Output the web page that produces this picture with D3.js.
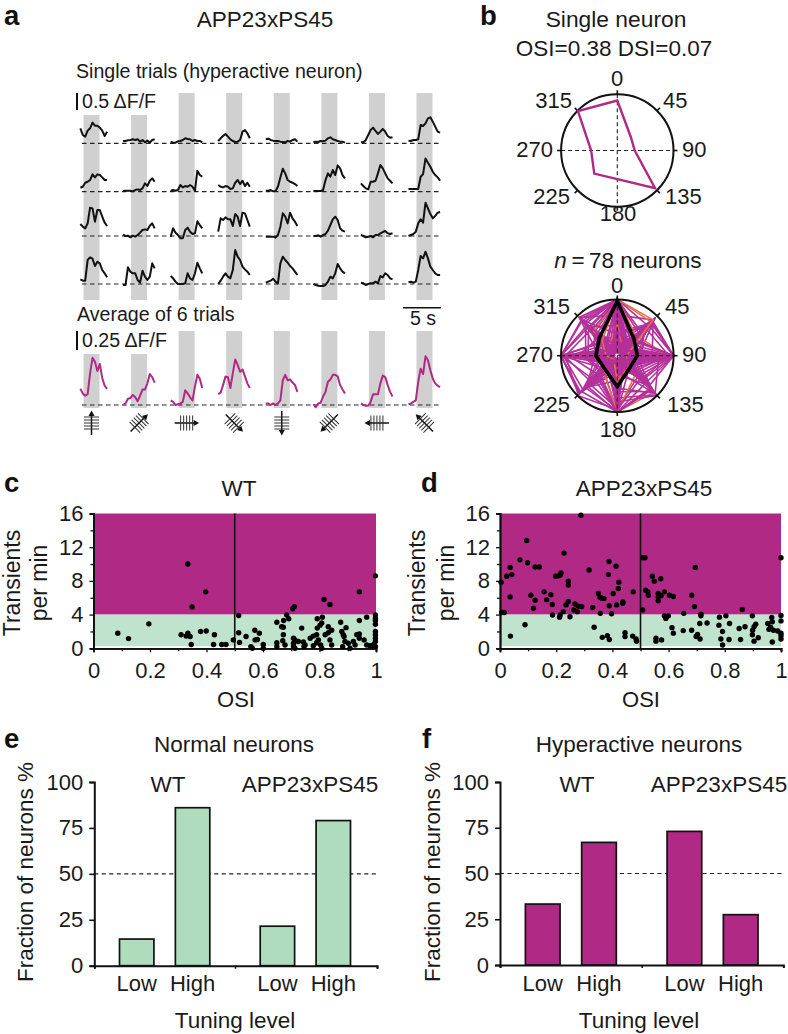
<!DOCTYPE html>
<html><head><meta charset="utf-8">
<script src="https://cdn.jsdelivr.net/npm/d3@7"></script>
<style>html,body{margin:0;background:#fff}svg{display:block}text{font-family:"Liberation Sans",Arial,sans-serif;fill:#1a1a1a}</style>
</head><body><svg id="c" width="788" height="1034"></svg>
<script>
// ---------- data ----------
const directions=[0,45,90,135,180,225,270,315];
const trialRow1=[[.45,.25,.20,.38,.45,.62,.53,.53,.47,.38,.22,.35],[.07,.07,.09,.10,.12,.10,.12,.05,.10,.03,.08,.02,.10,.12],[.05,.02,.02,.06,.07,.10,.15,.13,.12,.07,.10,.07,.07,.03],[.07,.15,.22,.28,.20,.12,.07,.04,.05,.10,.35,.40,.30,.15],[.13,.14,.10,.08,.07,.07,.05,.04,.03,.07,.05,.10,.12,.05],[.03,.05,.04,.07,.06,.08,.15,.18,.12,.10,.07,.05,.05,.02],[.03,.03,.10,.25,.40,.47,.37,.28,.35,.43,.35,.22,.17,.18],[.08,.07,.10,.10,.12,.55,.52,.60,.75,.78,.65,.50,.35,.32]];
const trialRow2=[[.12,.15,.27,.30,.35,.52,.43,.52,.50,.43,.35,.35],[.02,.03,.03,.03,.01,.05,.07,.05,.10,.25,.17,.33,.40,.30],[.02,.05,.03,.05,.20,.13,.17,.15,.20,.15,.03,.63,.50,.45],[.20,.15,.13,.17,.15,.08,.10,.27,.35,.23,.33,.17,.27,.15],[.03,.03,.05,.01,.02,.15,.43,.69,.55,.35,.30,.27,.23,.17],[.02,.02,.02,.02,.05,.35,.55,.45,.65,.50,.79,.70,.50,.40],[.25,.17,.10,.07,.30,.30,.33,.55,.80,.70,.55,.40,.33,.25],[.08,.08,.08,.08,.08,.45,.53,1.0,.87,.75,.60,.50,.43,.33]];
const trialRow3=[[.36,.28,.23,.38,.85,.83,.43,.78,.78,.58,.40,.30],[.04,0,.01,-.04,.01,-.02,.03,.10,.18,.20,.18,.31,.38,.23],[-.02,.23,.10,.03,-.07,-.07,.18,.25,.13,.06,.08,.44,.33,.23],[.13,.53,.48,.56,.50,.50,.30,.66,.58,.30,.70,.68,.48,.28],[-.02,-.02,-.02,-.02,-.05,.03,.28,.68,.58,.38,.70,.53,.43,.30],[0,0,.02,-.02,.03,.06,.16,.33,.50,.58,.48,.23,.16,.13],[.03,0,-.04,-.02,0,-.04,.03,.03,.08,.12,.15,.08,.06,.08],[0,.03,.06,.13,.38,.50,.40,1.0,.83,.66,.53,.60,.70,.72]];
const trialRow4=[[.14,.10,.10,.72,.80,.76,.54,.67,.62,.42,.32,.20],[-.03,-.03,.50,.37,.32,.32,.12,.04,.40,.22,.12,.22,.62,.47],[.24,.17,.07,0,0,0,.02,.32,.17,.12,.32,.64,.47,.32],[0,.10,.22,.32,.22,.17,.42,1.02,.82,.72,.52,.44,.37,.27],[.04,.07,.10,.16,.07,.02,.62,.82,.72,.64,.54,.47,.37,.27],[0,-.03,-.05,-.06,-.06,-.03,.07,.22,.17,.32,.60,.47,.37,.32],[.04,.02,-.03,0,.02,.02,.07,.02,.24,.20,.32,.27,.17,.14],[.05,.07,.04,.07,.42,.84,.77,.97,.77,.52,.42,.32,.27,.27]];
const trialAverage=[[.21,.15,.12,.14,.41,.61,.56,.44,.53,.35,.25,.21],[0,.02,.08,.09,.13,.10,.05,.12,.20,.20,.28,.40,.36,.29],[.06,.04,0,.01,.02,.04,.19,.15,.10,.06,.24,.39,.34,.22],[.14,.16,.26,.37,.36,.22,.41,.59,.52,.43,.46,.37,.28,.22],[.02,.02,0,.02,0,.02,.06,.32,.39,.32,.33,.29,.26,.17],[.01,-.03,.02,.03,.11,.17,.30,.33,.39,.39,.37,.26,.20,.15],[.02,0,-.01,-.01,.04,.14,.14,.14,.28,.38,.36,.26,.17,.11],[.01,.02,.04,.06,.30,.47,.40,.63,.58,.45,.34,.28,.25,.23]];
const singleNeuron=[.89,.34,.31,.95,.51,.58,.465,.99];
const meanNeuron=[.97,.42,.355,.31,.55,.32,.38,.45];
const neurons=[
[100,12,8,30,55,14,6,92],[22,95,38,6,44,80,10,18],[5,30,100,22,8,40,62,15],[60,8,18,92,100,6,30,10],[14,72,6,44,12,96,100,34],[100,20,60,5,16,28,8,70],[8,88,100,34,6,10,45,24],[40,5,24,98,75,18,12,6],
[12,36,8,16,100,90,28,50],[100,55,14,8,30,6,84,20],[6,18,92,60,10,24,5,38],[28,9,44,12,100,35,60,8],[72,90,5,20,7,48,14,96],[100,6,30,14,22,8,40,58],[10,42,100,78,5,16,26,12],[34,14,7,52,94,70,8,30],
[18,60,24,8,36,12,100,88],[100,85,10,18,6,30,16,44],[7,12,74,95,28,5,50,20],[50,24,6,10,100,58,18,9],[16,8,38,26,12,98,92,66],[100,40,18,6,46,10,24,14],[5,78,100,12,20,34,7,28],[24,16,10,86,100,44,5,36],
[66,30,8,38,14,20,100,12],[100,10,42,24,8,16,56,80],[9,92,26,14,54,6,18,40],[36,6,100,52,18,84,12,7],[12,28,16,70,100,8,34,22],[44,68,6,8,24,92,100,16],[100,18,26,40,10,5,32,96],[6,50,88,16,30,12,8,62],
[20,10,34,90,64,26,14,5],[100,34,5,12,72,18,10,30],[8,84,100,28,5,42,22,14],[30,12,20,8,96,100,6,48],[54,7,14,32,10,60,100,72],[100,76,36,10,18,7,44,8],[11,22,96,46,26,14,5,34],[26,44,8,100,82,10,18,6],
[15,6,52,18,100,76,40,24],[100,14,8,54,20,34,12,88],[7,38,100,9,14,22,70,46],[42,80,16,24,6,94,12,10],[19,9,30,6,100,48,86,28],[100,48,22,16,5,12,6,60],[10,90,62,8,40,16,28,20],[32,16,100,70,12,6,46,9],
[6,26,12,94,58,32,100,14],[100,8,28,36,14,40,20,52],[13,66,44,5,92,10,8,30],[48,20,7,18,30,86,96,16],[23,5,100,28,8,54,14,42],[100,60,12,7,38,20,48,6],[9,32,18,82,100,14,24,18],[38,74,6,12,20,6,100,90],
[17,10,90,40,16,28,5,56],[100,28,46,9,24,8,36,26],[5,96,24,20,10,70,16,12],[56,14,9,46,100,36,7,22],[21,40,100,14,6,18,78,8],[100,16,6,72,34,12,28,64],[8,54,34,10,94,26,18,32],[46,24,14,92,7,88,10,16],
[14,7,70,30,100,6,56,20],[100,36,20,8,12,46,9,84],[6,86,100,18,32,8,14,48],[28,18,10,58,96,22,40,7],[12,46,5,26,16,94,100,36],[100,22,54,13,8,30,16,12],[7,70,92,6,26,14,34,18],[36,11,26,84,100,52,6,10],
[16,34,9,14,60,20,100,76],[100,90,16,28,44,9,20,38],[10,14,100,62,7,36,12,26],[52,6,30,16,98,80,24,8],[18,58,12,36,9,66,94,14],[100,26,7,44,18,10,52,72]];
const orangeNeurons=[3,17,31,45,59,73];
const wtOsi=[.086,.124,.196,.334,.397,.349,.31,.334,.328,.342,.379,.399,.428,.346,.425,.454,.469,.495,.514,.514,.517,.54,.557,.562,.571,.587,.572,.58,.601,.601,.649,.673,.691,.684,.705,.711,.666,.672,.672,.649,.649,.67,.678,.708,.713,.725,.708,.713,.708,.737,.743,.749,.745,.767,.778,.79,.792,.792,.81,.808,.802,.796,.79,.778,.804,.808,.816,.837,.82,.831,.831,.843,.837,.843,.875,.879,.884,.894,.887,.89,.882,.902,.908,.92,.926,.932,.941,.941,.941,.941,.958,.967,.967,.979,.998,.998,.998,.998,.998,.998,.998,.998,.998,.993,.988,.998];
const wtRate=[1.8,1.15,2.9,10,6.7,4.9,1.6,1.8,1.45,1.4,2,2.05,1.6,.45,.45,.45,.45,1,3.9,1.85,.7,1.4,.2,0,2.15,1.8,1,1.05,.45,0,3.1,3.3,3.5,3.95,4.7,4.95,2.55,2.5,1.6,.65,.2,.9,.4,1.2,1,.8,.6,0,.2,2.4,.75,.4,.2,1.2,1.45,1.6,2.4,3.5,3.7,3,2.75,1,.65,.3,.4,0,5.8,5.2,1.6,1.85,2.55,2.15,1,.4,3.1,2,1.6,2.45,1.4,.8,.2,.6,0,.8,.4,1.6,1.7,1.2,3.3,6.7,1,3.7,.4,.3,8.6,3.95,3.55,3.3,2.85,2,1.6,1.2,.8,.5,.3,.2];
const appOsi=[.288,.095,.228,.071,.098,.036,.024,.042,.004,.036,.11,.125,.119,.125,.14,.157,.166,.181,.186,.198,.208,.214,.217,.243,.243,.317,.388,.413,.386,.423,.421,.403,.35,.356,.362,.37,.33,.389,.415,.437,.437,.474,.291,.279,.267,.243,.235,.225,.214,.212,.187,.249,.263,.275,.015,.006,.089,.037,.335,.357,.397,.364,.382,.389,.445,.445,.472,.484,.486,.508,.516,.518,.526,.528,.508,.542,.549,.572,.563,.563,.585,.573,.563,.603,.617,.695,.682,.692,.862,1,.585,.593,.59,.599,.654,.715,.715,.711,.737,.781,.804,.817,.779,.792,.792,.851,.872,.898,.91,.904,.899,.898,.919,.904,.612,.617,.652,.682,.703,.698,.712,.555,.555,.575,.786,.815,.856,.953,.967,.969,.963,.957,.973,1,1,.988,1,1,1,.969];
const appRate=[15.8,12.8,11.3,10.5,10.15,9.6,8.55,8.75,7.85,6.1,6.3,5.7,4.75,9.65,9.65,6.7,5.75,6.35,5.2,8.55,8.6,8.7,8.95,7.95,7.5,9.3,10.3,9.75,8.75,7.85,7.1,6.5,6.5,6.05,5.95,5.9,4.85,5.05,5.15,5.35,5.5,6.7,4.95,5,5.25,5.55,5.15,4.35,3.95,3.7,3.95,3.75,4.55,4.35,4.25,4.25,2.8,1.45,2.5,4.15,4.1,1.3,1.5,1.05,1.85,1.4,1.45,1.1,.85,10.75,10.75,6.9,6.7,6.3,4.55,8.55,7.95,8.25,6.5,6.1,6.7,6.25,5.65,6.3,6.15,9.6,6.3,4.95,4.6,10.75,3.85,3.75,3.55,3.85,4.15,4.05,3.85,2.95,3,3.7,3.85,2.95,2.75,2,.4,2.35,2.55,3.85,2.85,2.55,2.15,1.6,1.25,.85,2.45,1.8,2.1,2.15,1.65,1.4,1.1,1.2,.85,1,1.1,1.05,1.05,2.95,3.65,3.15,2.5,2.25,2.15,3.9,3.25,2.05,1.8,1.5,1.1,.75];
const tuning=["Low","High"];
const groups=["WT","APP23xPS45"];
const normalWT=[14.5,86], normalAPP=[21.5,79], hyperWT=[33.3,67], hyperAPP=[73,27.5];
const rateMajor=[0,4,8,12,16], rateMinor=[2,6,10,14], osiMajor=[0,.2,.4,.6,.8,1], osiMinor=[.1,.3,.5,.7,.9];
const pctTicks=[0,25,50,75,100];

// ---------- helpers ----------
const MAG="#b02a85", GRN="#bfe3cc", BAR="#aedcbc", GRAY="#d0d0d0", INK="#111";
const svg=d3.select("#c");
function T(x,y,s,size,anchor="start",opt={}){
  const t=svg.append("text").attr("x",x).attr("y",y).attr("font-size",size).attr("text-anchor",anchor).text(s);
  if(opt.bold)t.attr("font-weight","bold");
  if(opt.rot!=null)t.attr("transform",`rotate(${opt.rot} ${x} ${y})`);
  return t;
}
[["a",4,25],["b",480,25],["c",4,492],["d",421,492],["e",4,748],["f",422,748]].forEach(d=>T(d[1],d[2],d[0],27.5,"start",{bold:true}).style("fill","#111"));

// ---------- panel a ----------
const colX=d3.scalePoint().domain(directions).range([91.5,424.5]);
const traceX=d3.scaleLinear().domain([0,1]).range([-16,-16+2.43]);
const rows=[{b:143.3,d:trialRow1},{b:191.7,d:trialRow2},{b:236,d:trialRow3},{b:284,d:trialRow4}];
const barW=16;
directions.forEach((dir,i)=>{
  const top1=i<2?115:93, top2=i<2?354:331;
  svg.append("rect").attr("x",colX(dir)-barW/2).attr("y",top1).attr("width",barW).attr("height",300-top1).attr("fill",GRAY);
  svg.append("rect").attr("x",colX(dir)-barW/2).attr("y",top2).attr("width",barW).attr("height",408-top2).attr("fill",GRAY);
});
const drawTrace=(vals,i,base,k,col,w)=>{
  const off=14-vals.length;
  const line=d3.line().x((v,j)=>colX(directions[i])+traceX(j+off)).y(v=>base-v*k);
  svg.append("path").attr("d",line(vals)).attr("fill","none").attr("stroke",col).attr("stroke-width",w).attr("stroke-linejoin","round");
};
rows.forEach(r=>{
  svg.append("line").attr("x1",82).attr("x2",441).attr("y1",r.b).attr("y2",r.b).attr("stroke","#222").attr("stroke-width",1.2).attr("stroke-dasharray","4.5 3.5");
  r.d.forEach((v,i)=>drawTrace(v,i,r.b,33.3,"#111",2));
});
svg.append("line").attr("x1",82).attr("x2",441).attr("y1",405).attr("y2",405).attr("stroke","#222").attr("stroke-width",1.2).attr("stroke-dasharray","4.5 3.5");
trialAverage.forEach((v,i)=>drawTrace(v,i,405,77.3,MAG,2));
T(265,27,"APP23xPS45",22.5,"middle");
T(76,78,"Single trials (hyperactive neuron)",19.6);
T(82,108,"0.5 ΔF/F",19.6);
T(77,321,"Average of 6 trials",19.6);
T(82,347,"0.25 ΔF/F",19.6);
T(423,325,"5 s",19.6,"middle");
svg.append("line").attr("x1",77).attr("x2",77).attr("y1",93).attr("y2",110).attr("stroke",INK).attr("stroke-width",2);
svg.append("line").attr("x1",77).attr("x2",77).attr("y1",331).attr("y2",350).attr("stroke",INK).attr("stroke-width",2);
svg.append("line").attr("x1",403).attr("x2",441).attr("y1",307.7).attr("y2",307.7).attr("stroke",INK).attr("stroke-width",1.6);
// stimulus glyphs
directions.forEach(dir=>{
  const g=svg.append("g").attr("transform",`translate(${colX(dir)},423) rotate(${dir})`);
  g.append("line").attr("y1",12).attr("y2",-8).attr("stroke",INK).attr("stroke-width",1.5);
  g.append("path").attr("d","M0,-12.5L-3,-7L3,-7Z").attr("fill",INK);
  [-6,-3,0,3,6].forEach(y=>g.append("line").attr("x1",-7.5).attr("x2",7.5).attr("y1",y).attr("y2",y).attr("stroke","#333").attr("stroke-width",1));
});

// ---------- panel b ----------
function polar(cx,cy,R){
  const g=svg.append("g").attr("transform",`translate(${cx},${cy})`);
  const rs=d3.scaleLinear().domain([0,1]).range([0,R]);
  const radial=d3.lineRadial().angle((v,i)=>directions[i]*Math.PI/180).radius(v=>rs(v)).curve(d3.curveLinearClosed);
  return {g,rs,radial,R};
}
function polarFrame(p){
  const {g,R}=p;
  g.append("circle").attr("r",R).attr("fill","none").attr("stroke",INK).attr("stroke-width",2);
  directions.forEach(d=>{
    const a=d*Math.PI/180, s=Math.sin(a), c=-Math.cos(a);
    g.append("line").attr("x1",s*R).attr("y1",c*R).attr("x2",s*(R+4)).attr("y2",c*(R+4)).attr("stroke",INK).attr("stroke-width",1.6);
  });
}
function cross(p){
  p.g.append("line").attr("x1",-p.R).attr("x2",p.R).attr("stroke","#222").attr("stroke-width",1.1).attr("stroke-dasharray","4 3");
  p.g.append("line").attr("y1",-p.R).attr("y2",p.R).attr("stroke","#222").attr("stroke-width",1.1).attr("stroke-dasharray","4 3");
}
T(616,27,"Single neuron",22.8,"middle");
T(614,56,"OSI=0.38 DSI=0.07",22.5,"middle");
const p1=polar(617.3,150.5,56.2);
cross(p1);polarFrame(p1);
p1.g.append("path").attr("d",p1.radial(singleNeuron)).attr("fill","none").attr("stroke",MAG).attr("stroke-width",2.4);
[[617,86,"0","middle"],[663,108,"45","start"],[572,108,"315","end"],[553,157,"270","end"],[682,157,"90","start"],[570,204,"225","end"],[665,204,"135","start"],[618,221,"180","middle"]].forEach(d=>T(d[0],d[1],d[2],22,d[3]));

const nT=T(628,268,"",22.5,"middle");
nT.append("tspan").attr("font-style","italic").text("n");
nT.append("tspan").text("\u2009=\u200978 neurons");
const p2=polar(617.3,355.7,56.3);
neurons.forEach((n,i)=>p2.g.append("path").attr("d",p2.radial(n.map(v=>v/100))).attr("fill","none")
  .attr("stroke",orangeNeurons.includes(i)?"#e0704a":"#b4309a").attr("stroke-width",1.6));
cross(p2);polarFrame(p2);
p2.g.append("path").attr("d",p2.radial(meanNeuron)).attr("fill","none").attr("stroke","#000").attr("stroke-width",3.6).attr("stroke-linejoin","miter");
[[617,293,"0","middle"],[665,314,"45","start"],[570,314,"315","end"],[553,362,"270","end"],[682,362,"90","start"],[570,412,"225","end"],[667,412,"135","start"],[618,437,"180","middle"]].forEach(d=>T(d[0],d[1],d[2],22,d[3]));

// ---------- panels c, d ----------
function scatter(x0,x1,title,tx,osi,rate,yl1,yl2,oc){
  const x=d3.scaleLinear().domain([0,1]).range([x0,x1]);
  const y=d3.scaleLinear().domain([0,16]).range([648.3,513.5]);
  svg.append("rect").attr("x",x(0)).attr("width",x(1)-x(0)).attr("y",y(16)).attr("height",y(4)-y(16)).attr("fill",MAG);
  svg.append("rect").attr("x",x(0)).attr("width",x(1)-x(0)).attr("y",y(4)).attr("height",y(.25)-y(4)).attr("fill",GRN);
  const ax=svg.append("g").attr("transform",`translate(0,${y(0)})`).call(d3.axisBottom(x).tickValues(osiMajor).tickSize(4).tickPadding(10).tickFormat(d3.format("~g")));
  svg.append("g").attr("transform",`translate(0,${y(0)})`).call(d3.axisBottom(x).tickValues(osiMinor).tickSize(3).tickFormat(""));
  const ay=svg.append("g").attr("transform",`translate(${x0},0)`).call(d3.axisLeft(y).tickValues(rateMajor).tickSize(4).tickPadding(6));
  svg.append("g").attr("transform",`translate(${x0},0)`).call(d3.axisLeft(y).tickValues(rateMinor).tickSize(3).tickFormat(""));
  svg.selectAll(".domain").attr("stroke",INK).attr("stroke-width",1.8);
  svg.selectAll(".tick line").attr("stroke",INK).attr("stroke-width",1.3);
  [ax,ay].forEach(a=>a.selectAll("text").attr("font-size",22).style("fill","#1a1a1a").style("font-family",'"Liberation Sans"'));
  svg.append("line").attr("x1",x(.5)).attr("x2",x(.5)).attr("y1",y(16)).attr("y2",y(0)).attr("stroke",INK).attr("stroke-width",1.6);
  svg.append("g").selectAll("circle").data(osi).join("circle").attr("cx",d=>x(d)).attr("cy",(d,i)=>y(rate[i])).attr("r",2.7).attr("fill","#000");
  T(tx,496,title,22.5,"middle");
  T(oc,707,"OSI",22,"middle");
  T(yl1,583,"Transients",23,"middle",{rot:-90});
  T(yl2,583,"per min",23,"middle",{rot:-90});
}
scatter(93.5,376,"WT",239,wtOsi,wtRate,20,47,236);
scatter(500,781,"APP23xPS45",644,appOsi,appRate,425,454,641);

// ---------- panels e, f ----------
function bars(x0,xm,x1,y0,title,tc,vals,col,ylx,tlc,gcx){
  const y=d3.scaleLinear().domain([0,100]).range([y0,782]);
  const gx=d3.scaleOrdinal().domain(groups).range([x0,xm]);
  const w=xm-x0;
  const inner=d3.scaleBand().domain(tuning).range([0,w]).paddingInner(.384).paddingOuter(.451);
  svg.append("line").attr("x1",x0).attr("x2",x1).attr("y1",y(50)).attr("y2",y(50)).attr("stroke","#222").attr("stroke-width",1.1).attr("stroke-dasharray","4 3.5");
  groups.forEach((gr,gi)=>{
    tuning.forEach((t,ti)=>{
      const xx=gx(gr)+inner(t);
      svg.append("rect").attr("x",xx).attr("width",inner.bandwidth()).attr("y",y(vals[gi][ti])).attr("height",y(0)-y(vals[gi][ti])).attr("fill",col).attr("stroke",INK).attr("stroke-width",1.7);
      T(xx+inner.bandwidth()/2,720+812/3,t,22,"middle");
    });
  });
  const ay=svg.append("g").attr("transform",`translate(${x0},0)`).call(d3.axisLeft(y).tickValues(pctTicks).tickSize(5).tickPadding(6));
  ay.selectAll("text").attr("font-size",22).style("fill","#1a1a1a").style("font-family",'"Liberation Sans"');
  ay.select(".domain").attr("stroke",INK).attr("stroke-width",2);
  ay.selectAll(".tick line").attr("stroke",INK).attr("stroke-width",1.6);
  const ax=svg.append("g").attr("transform",`translate(0,${y0})`).call(d3.axisBottom(d3.scaleLinear().domain([0,1]).range([x0,x1])).tickValues([0,(xm-x0)/(x1-x0),1]).tickSize(3).tickFormat(""));
  ax.select(".domain").attr("stroke",INK).attr("stroke-width",2);
  ax.selectAll(".tick line").attr("stroke",INK).attr("stroke-width",1.6);
  T(tc,720+97/3,title,22.5,"middle");
  T(gcx[0],720+215/3,groups[0],22.5,"middle");
  T(gcx[1],720+215/3,groups[1],22.5,"middle");
  T(tlc,720+925/3,"Tuning level",22.5,"middle");
  T(ylx,872,"Fraction of neurons %",22.5,"middle",{rot:-90});
}
bars(94.3,235,377,965.7,"Normal neurons",234,[normalWT,normalAPP],BAR,33,235,[168,310]);
bars(500,641.7,783.3,965,"Hyperactive neurons",639,[hyperWT,hyperAPP],MAG,440,639,[577,719]);
</script></body></html>
